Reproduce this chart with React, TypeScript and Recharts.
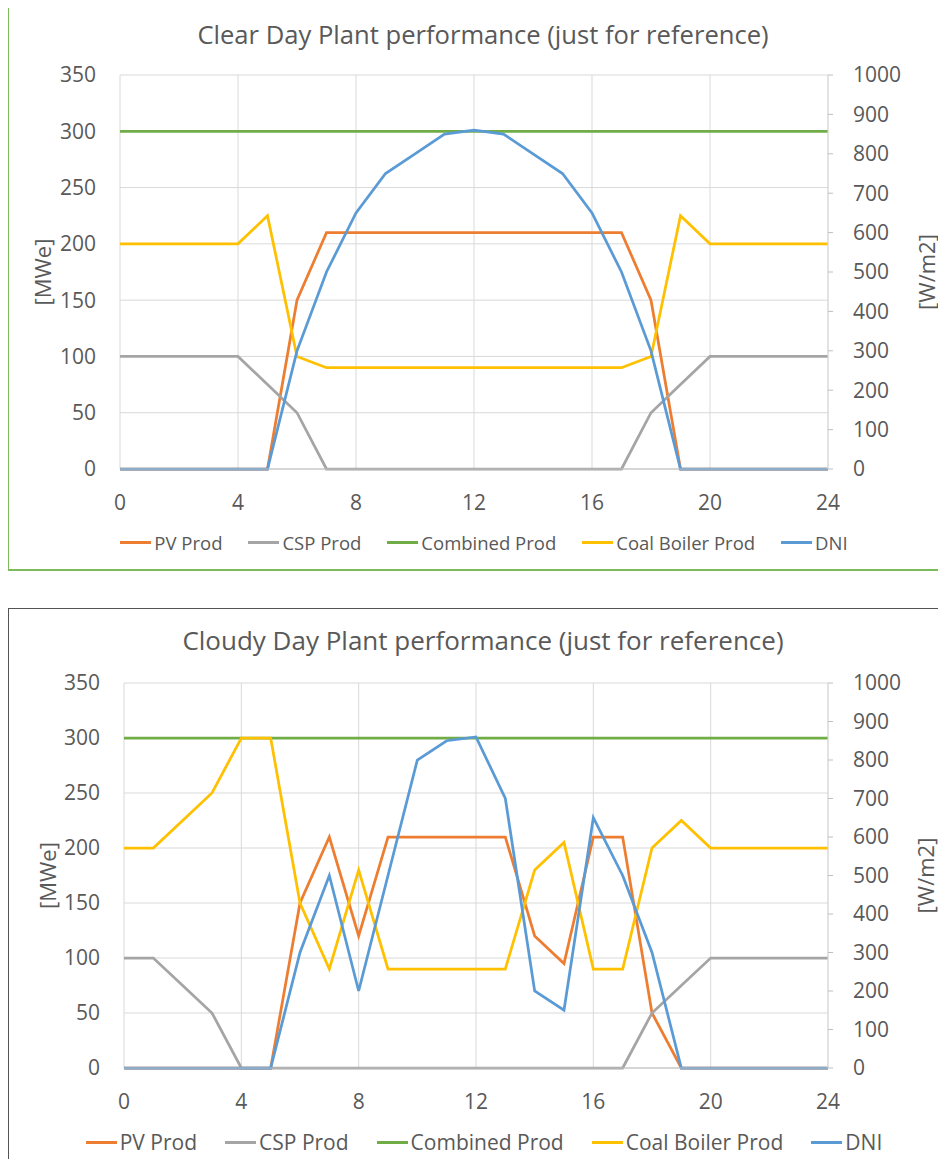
import React from "react";
import { LineChart, Line, XAxis, YAxis, CartesianGrid, Legend } from "recharts";

const HOURS = [0, 1, 2, 3, 4, 5, 6, 7, 8, 9, 10, 11, 12, 13, 14, 15, 16, 17, 18, 19, 20, 21, 22, 23, 24];
const X_TICKS = [0, 4, 8, 12, 16, 20, 24];
const LEFT_TICKS = [0, 50, 100, 150, 200, 250, 300, 350];
const RIGHT_TICKS = [0, 100, 200, 300, 400, 500, 600, 700, 800, 900, 1000];

// Clear day
const CLEAR_PV = [0, 0, 0, 0, 0, 0, 150, 210, 210, 210, 210, 210, 210, 210, 210, 210, 210, 210, 150, 0, 0, 0, 0, 0, 0];
const CLEAR_CSP = [100, 100, 100, 100, 100, 75, 50, 0, 0, 0, 0, 0, 0, 0, 0, 0, 0, 0, 50, 75, 100, 100, 100, 100, 100];
const CLEAR_COMBINED = [300, 300, 300, 300, 300, 300, 300, 300, 300, 300, 300, 300, 300, 300, 300, 300, 300, 300, 300, 300, 300, 300, 300, 300, 300];
const CLEAR_COAL = [200, 200, 200, 200, 200, 225, 100, 90, 90, 90, 90, 90, 90, 90, 90, 90, 90, 90, 100, 225, 200, 200, 200, 200, 200];
const CLEAR_DNI = [0, 0, 0, 0, 0, 0, 300, 500, 650, 750, 800, 850, 860, 850, 800, 750, 650, 500, 300, 0, 0, 0, 0, 0, 0];

// Cloudy day
const CLOUDY_PV = [0, 0, 0, 0, 0, 0, 150, 210, 120, 210, 210, 210, 210, 210, 120, 95, 210, 210, 50, 0, 0, 0, 0, 0, 0];
const CLOUDY_CSP = [100, 100, 75, 50, 0, 0, 0, 0, 0, 0, 0, 0, 0, 0, 0, 0, 0, 0, 50, 75, 100, 100, 100, 100, 100];
const CLOUDY_COMBINED = [300, 300, 300, 300, 300, 300, 300, 300, 300, 300, 300, 300, 300, 300, 300, 300, 300, 300, 300, 300, 300, 300, 300, 300, 300];
const CLOUDY_COAL = [200, 200, 225, 250, 300, 300, 150, 90, 180, 90, 90, 90, 90, 90, 180, 205, 90, 90, 200, 225, 200, 200, 200, 200, 200];
const CLOUDY_DNI = [0, 0, 0, 0, 0, 0, 300, 500, 200, 500, 800, 850, 860, 700, 200, 150, 650, 500, 300, 0, 0, 0, 0, 0, 0];

const SERIES = [
  { key: "pv", name: "PV Prod", color: "#ED7D31", axis: "left" },
  { key: "csp", name: "CSP Prod", color: "#A5A5A5", axis: "left" },
  { key: "combined", name: "Combined Prod", color: "#70AD47", axis: "left" },
  { key: "coal", name: "Coal Boiler Prod", color: "#FFC000", axis: "left" },
  { key: "dni", name: "DNI", color: "#5B9BD5", axis: "right" },
];

const buildRows = (pv: number[], csp: number[], comb: number[], coal: number[], dni: number[]) =>
  HOURS.map((h, i) => ({ hour: h, pv: pv[i], csp: csp[i], combined: comb[i], coal: coal[i], dni: dni[i] }));

const CLEAR_ROWS = buildRows(CLEAR_PV, CLEAR_CSP, CLEAR_COMBINED, CLEAR_COAL, CLEAR_DNI);
const CLOUDY_ROWS = buildRows(CLOUDY_PV, CLOUDY_CSP, CLOUDY_COMBINED, CLOUDY_COAL, CLOUDY_DNI);

const FONT = "'Open Sans', 'DejaVu Sans', sans-serif";
const TXT = "#595959";

type Cfg = {
  title: string;
  rows: any[];
  top: number;
  height: number;
  margin: { top: number; right: number; left: number; bottom: number };
  titleY: number;
  titleSize: number;
  tickSize: number;
  legendTop: number;
  legendSize: number;
  legendGap: number;
  legendPad: number;
  labelSize: number;
  leftLabelX: number;
  rightLabelX: number;
};

function PlantChart({ cfg }: { cfg: Cfg }) {
  const legendContent = () => (
    <div
      style={{
        display: "flex",
        justifyContent: "center",
        alignItems: "center",
        paddingLeft: cfg.legendPad,
        fontFamily: FONT,
        fontSize: cfg.legendSize,
        color: TXT,
        whiteSpace: "nowrap",
      }}
    >
      {SERIES.map((s) => (
        <div key={s.key} style={{ display: "flex", alignItems: "center", margin: `0 ${cfg.legendGap / 2}px` }}>
          <div style={{ width: 31, height: 3, background: s.color, marginRight: 3 }} />
          <span>{s.name}</span>
        </div>
      ))}
    </div>
  );

  const tickStyle = { fill: TXT, fontSize: cfg.tickSize, fontFamily: FONT };

  return (
    <div style={{ position: "absolute", left: 0, top: cfg.top, width: 946, height: cfg.height }}>
      <div
        style={{
          position: "absolute",
          left: 0,
          top: cfg.titleY - cfg.titleSize * 0.7,
          width: 946,
          paddingLeft: 20,
          boxSizing: "border-box",
          textAlign: "center",
          fontFamily: FONT,
          fontSize: cfg.titleSize,
          color: TXT,
          lineHeight: `${cfg.titleSize * 1.4}px`,
          whiteSpace: "nowrap",
        }}
      >
        {cfg.title}
      </div>
      <LineChart width={946} height={cfg.height} data={cfg.rows} margin={cfg.margin}>
        <CartesianGrid stroke="#D9D9D9" strokeWidth={1} yAxisId="left" />
        <XAxis
          dataKey="hour"
          type="number"
          domain={[0, 24]}
          ticks={X_TICKS}
          tickLine={false}
          tickSize={0}
          tickMargin={26}
          height={30}
          axisLine={{ stroke: "#BFBFBF" }}
          tick={tickStyle}
          interval={0}
        />
        <YAxis
          yAxisId="left"
          orientation="left"
          domain={[0, 350]}
          ticks={LEFT_TICKS}
          width={60}
          tickLine={false}
          axisLine={false}
          tickSize={0}
          tickMargin={24}
          tick={tickStyle}
          interval={0}
          label={{
            content: (p: any) => {
              const vb = p.viewBox || {};
              const cy = (vb.y || 0) + (vb.height || 0) / 2;
              return (
                <text
                  x={cfg.leftLabelX}
                  y={cy}
                  transform={`rotate(-90, ${cfg.leftLabelX}, ${cy})`}
                  textAnchor="middle"
                  dominantBaseline="central"
                  fill={TXT}
                  fontSize={cfg.labelSize}
                  fontFamily={FONT}
                >
                  [MWe]
                </text>
              );
            },
          }}
        />
        <YAxis
          yAxisId="right"
          orientation="right"
          domain={[0, 1000]}
          ticks={RIGHT_TICKS}
          width={70}
          tickLine={{ stroke: "#BFBFBF" }}
          axisLine={{ stroke: "#D9D9D9" }}
          tickSize={5}
          tickMargin={20}
          tick={tickStyle}
          interval={0}
          label={{
            content: (p: any) => {
              const vb = p.viewBox || {};
              const cy = (vb.y || 0) + (vb.height || 0) / 2;
              return (
                <text
                  x={cfg.rightLabelX}
                  y={cy}
                  transform={`rotate(-90, ${cfg.rightLabelX}, ${cy})`}
                  textAnchor="middle"
                  dominantBaseline="central"
                  fill={TXT}
                  fontSize={cfg.labelSize}
                  fontFamily={FONT}
                >
                  [W/m2]
                </text>
              );
            },
          }}
        />
        {SERIES.map((s) => (
          <Line
            key={s.key}
            yAxisId={s.axis}
            type="linear"
            dataKey={s.key}
            name={s.name}
            stroke={s.color}
            strokeWidth={2.75}
            dot={false}
            activeDot={false}
            isAnimationActive={false}
          />
        ))}
        <Legend
          verticalAlign="middle"
          layout="horizontal"
          content={legendContent}
          wrapperStyle={{ top: cfg.legendTop, left: 0, width: 946, height: 30 }}
        />
      </LineChart>
    </div>
  );
}

const CLEAR_CFG: Cfg = {
  title: "Clear Day Plant performance (just for reference)",
  rows: CLEAR_ROWS,
  top: 0,
  height: 580,
  margin: { top: 75, right: 48, left: 60, bottom: 81 },
  titleY: 35,
  titleSize: 25.6,
  tickSize: 21,
  legendTop: 530,
  legendSize: 18.5,
  legendGap: 26,
  legendPad: 22,
  labelSize: 22,
  leftLabelX: 42,
  rightLabelX: 926,
};

const CLOUDY_CFG: Cfg = {
  title: "Cloudy Day Plant performance (just for reference)",
  rows: CLOUDY_ROWS,
  top: 600,
  height: 580,
  margin: { top: 83, right: 48, left: 64, bottom: 82 },
  titleY: 40,
  titleSize: 26,
  tickSize: 21,
  legendTop: 528,
  legendSize: 21,
  legendGap: 28,
  legendPad: 22,
  labelSize: 22,
  leftLabelX: 47,
  rightLabelX: 925,
};

export default function App() {
  return (
    <div
      style={{
        position: "relative",
        width: 946,
        height: 1167,
        margin: -8,
        overflow: "hidden",
        background: "#FFFFFF",
        fontFamily: FONT,
      }}
    >
      <div
        style={{
          position: "absolute",
          left: 7,
          top: 5,
          width: 1000,
          height: 566,
          border: "2px solid #7DBA5A",
          boxSizing: "border-box",
        }}
      />
      <div
        style={{
          position: "absolute",
          left: 8,
          top: 608,
          width: 1000,
          height: 700,
          border: "1.5px solid #555555",
          boxSizing: "border-box",
        }}
      />
      <PlantChart cfg={CLEAR_CFG} />
      <PlantChart cfg={CLOUDY_CFG} />
    </div>
  );
}
